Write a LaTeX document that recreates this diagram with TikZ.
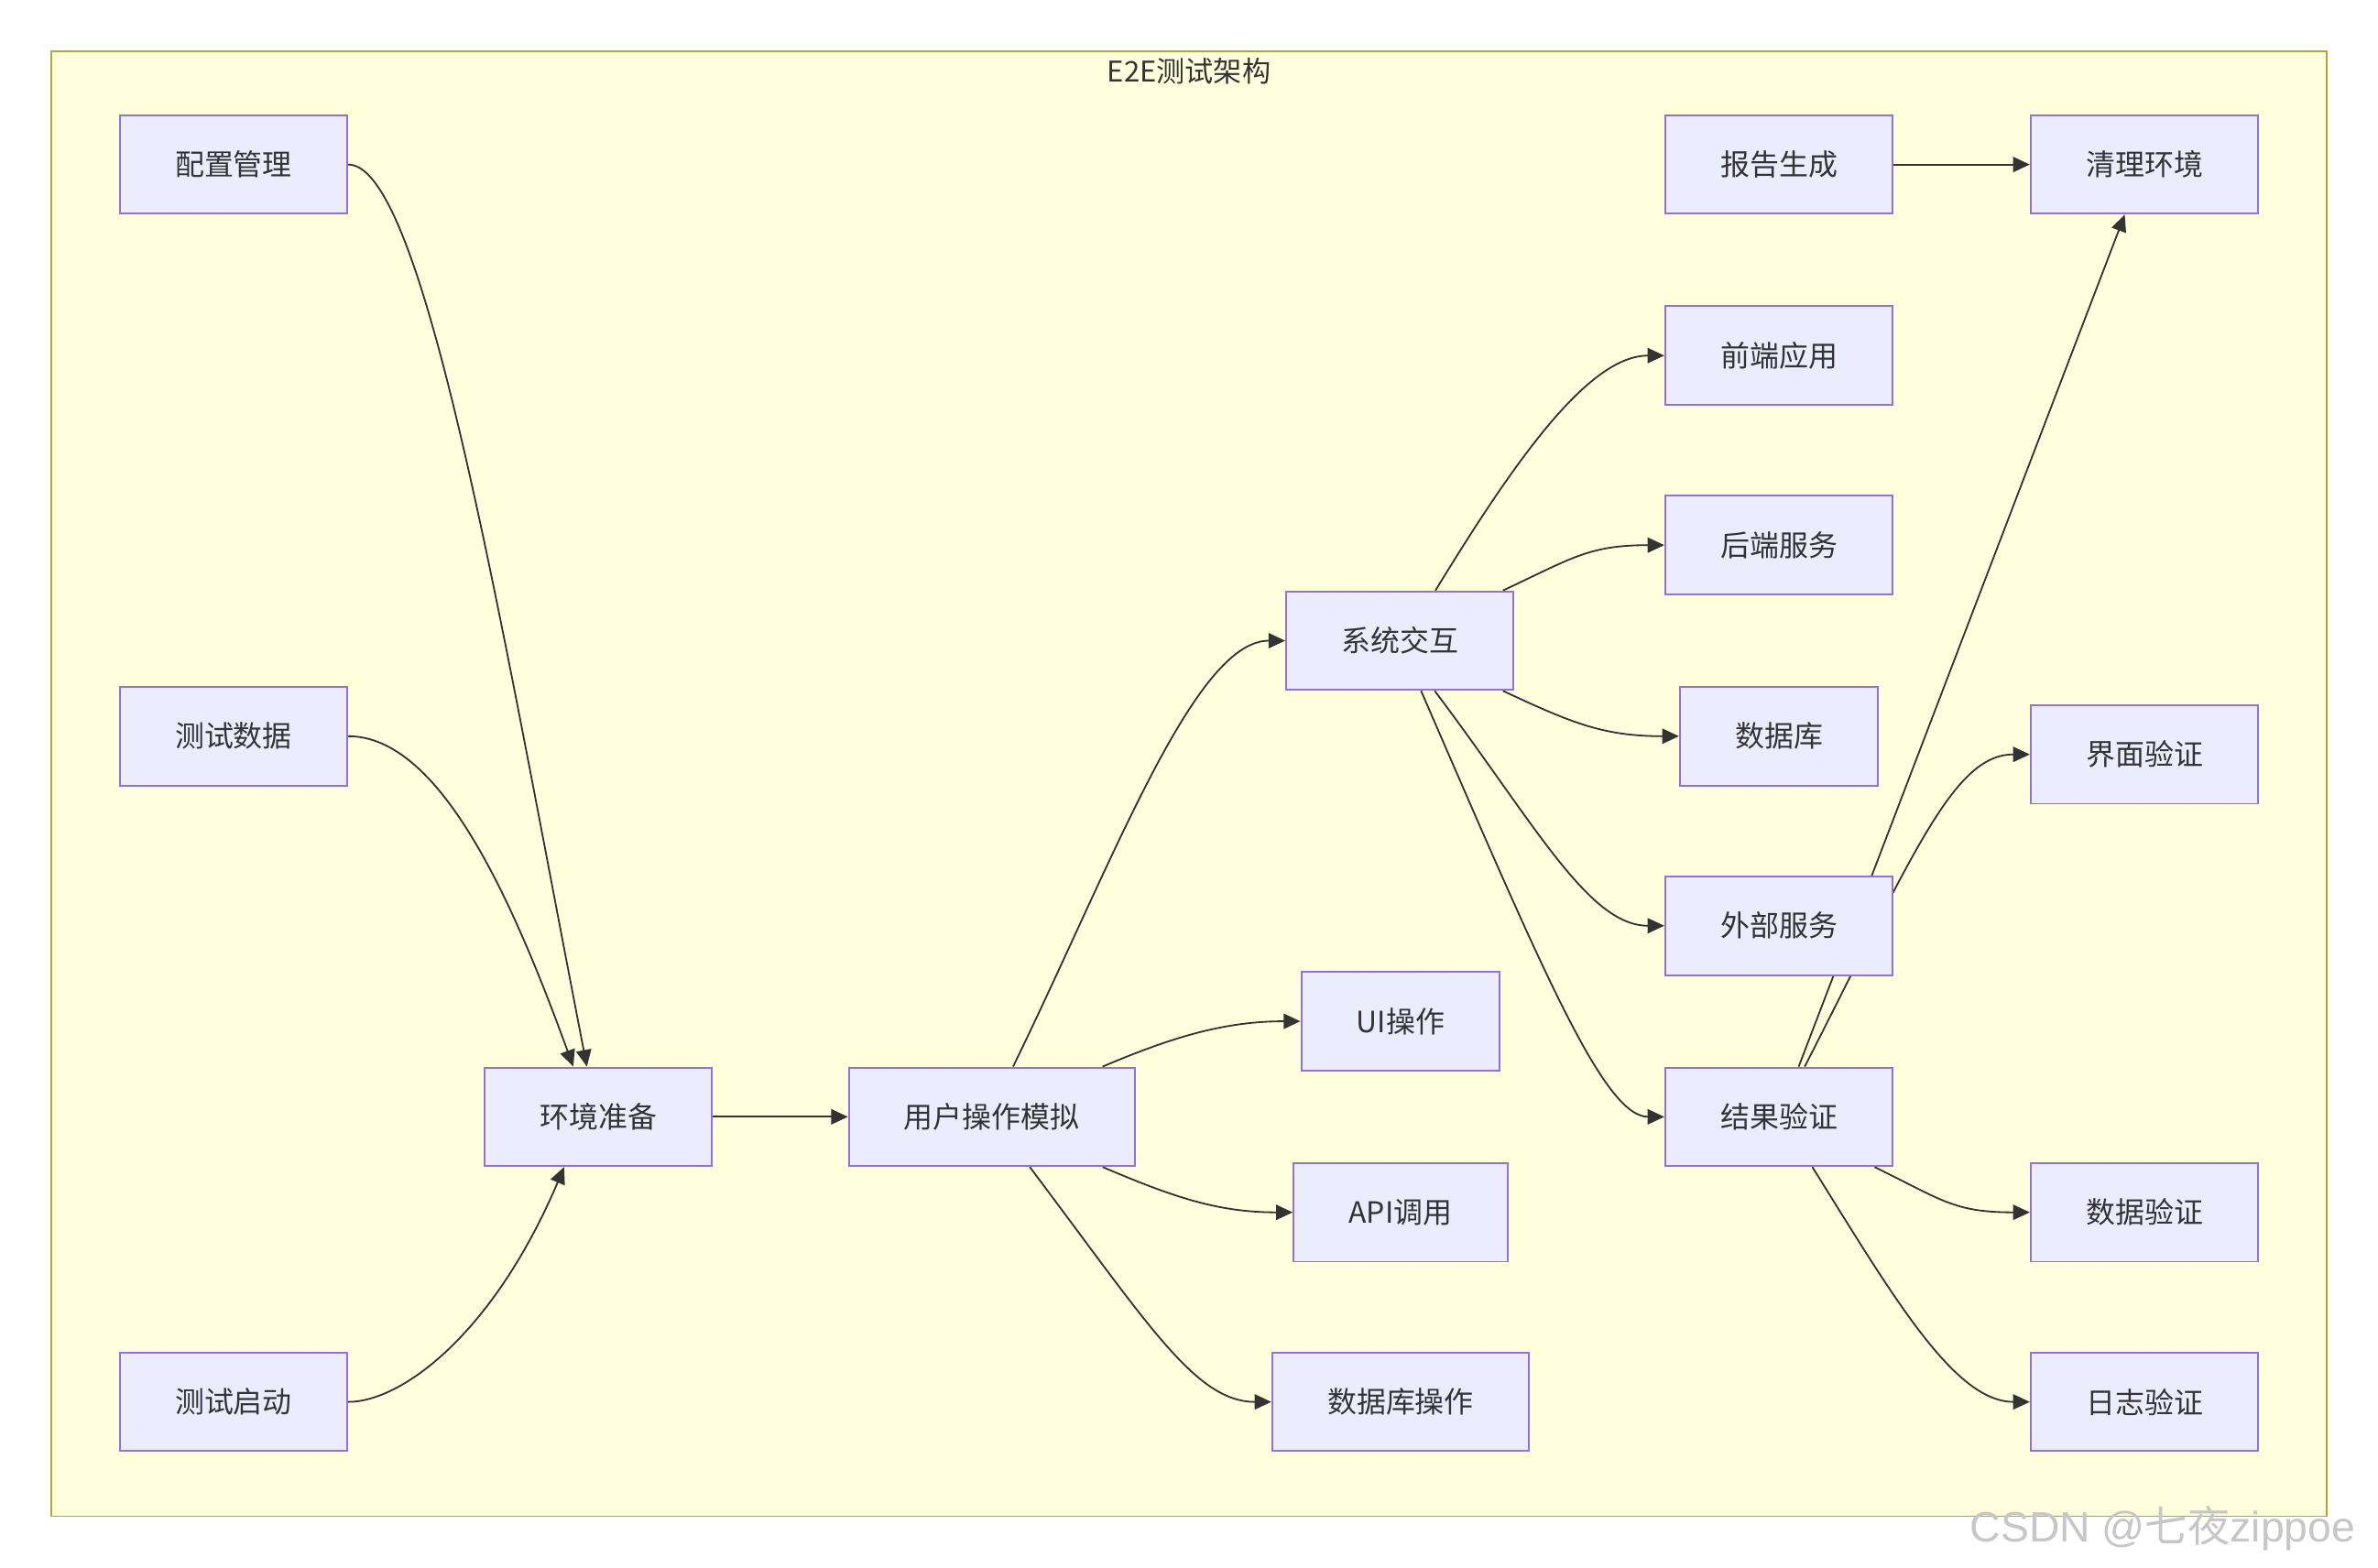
\documentclass[tikz,border=0pt]{standalone}
\usepackage{fontspec}
\newfontfamily\cjk{Noto Sans CJK SC}
\newfontfamily\wmfont{Liberation Sans}
\usetikzlibrary{calc}
\usetikzlibrary{arrows.meta}
\usetikzlibrary{backgrounds}
\definecolor{boxfill}{HTML}{ECECFF}
\definecolor{boxline}{HTML}{9370DB}
\definecolor{groupfill}{HTML}{FFFFDE}
\definecolor{groupline}{HTML}{AAAA33}
\definecolor{ink}{HTML}{333333}
\tikzset{
  box/.style={draw=boxline, fill=boxfill, line width=0.6pt, text=ink,
    font=\cjk\fontsize{9.65}{11}\selectfont,
    minimum height=32.5pt, inner xsep=18.2pt, inner ysep=0pt},
  flow/.style={draw=ink, line width=0.55pt, -{Triangle[length=5.5pt,width=5pt]}},
  group/.style={draw=groupline, fill=groupfill, line width=0.5pt},
  grouptitle/.style={text=ink, font=\cjk\fontsize{9.4}{11}\selectfont, inner sep=0pt},
  watermark/.style={text=black!22, font=\fontsize{14}{16}\selectfont, inner sep=0pt}
}

\begin{document}
\begin{tikzpicture}[x=0.5pt,y=0.5pt]
\useasboundingbox (0,0) rectangle (1568,-1034);

% title of the group
\node[grouptitle] (ttl) at (784,-47) {E2E测试架构};

% left column
\node[box] (cfg) at (154,-108.5) {配置管理};
\node[box] (data) at (154,-485.5) {测试数据};
\node[box] (start) at (154,-924.5) {测试启动};
\node[box] (env) at (394.5,-736.5) {环境准备};
\node[box] (user) at (654,-736.5) {用户操作模拟};

% user actions
\node[box] (ui) at (923.5,-673.5) {UI操作};
\node[box] (api) at (923.5,-799.5) {API调用};
\node[box] (dbop) at (923.5,-924.5) {数据库操作};
\node[box] (sys) at (923,-422.5) {系统交互};

% systems
\node[box] (report) at (1173,-108.5) {报告生成};
\node[box] (front) at (1173,-234.5) {前端应用};
\node[box] (back) at (1173,-359.5) {后端服务};
\node[box] (db) at (1173,-485.5) {数据库};
\node[box] (ext) at (1173,-610.5) {外部服务};
\node[box] (result) at (1173,-736.5) {结果验证};

% checks
\node[box] (clean) at (1414,-108.5) {清理环境};
\node[box] (uicheck) at (1414,-497.5) {界面验证};
\node[box] (datacheck) at (1414,-799.5) {数据验证};
\node[box] (logcheck) at (1414,-924.5) {日志验证};

\begin{scope}[on background layer]
\draw[group] (34,-34) rectangle (1534,-1000);

\draw[flow] (cfg.east) .. controls +(50,0) and +(101:300) .. ($(env.north)+(-7.5,0)$);
\draw[flow] (data.east) .. controls +(60,0) and +(110:120) .. ($(env.north)+(-16.5,0)$);
\draw[flow] (start.east) .. controls +(35,0) and +(247:120) .. ($(env.south)+(-22.5,0)$);
\draw[flow] (env) -- (user);

\draw[flow] ($(user.north)+(14,0)$) .. controls +(64:150) and +(-60,0) .. (sys.west);
\draw[flow] ($(user.north)+(73,0)$) .. controls +(23:50) and +(-50,0) .. (ui.west);
\draw[flow] ($(user.south)+(73,0)$) .. controls +(-23:50) and +(-50,0) .. (api.west);
\draw[flow] ($(user.south)+(25,0)$) .. controls +(-53:130) and +(-50,0) .. (dbop.west);

\draw[flow] ($(sys.north)+(23.5,0)$) .. controls +(58.6:100) and +(-50,0) .. (front.west);
\draw[flow] ($(sys.north)+(68,0)$) .. controls +(25:50) and +(-50,0) .. (back.west);
\draw[flow] ($(sys.south)+(68,0)$) .. controls +(-25:50) and +(-50,0) .. (db.west);
\draw[flow] ($(sys.south)+(23,0)$) .. controls +(-53:110) and +(-50,0) .. (ext.west);
\draw[flow] ($(sys.south)+(14,0)$) .. controls +(-66.5:200) and +(-40,0) .. (result.west);

\draw[flow] ($(result.north)+(17,0)$) .. controls +(63:160) and +(-50,0) .. (uicheck.west);
\draw[flow] ($(result.north)+(13,0)$) -- ($(clean.south)+(-13,0)$);
\draw[flow] ($(result.south)+(63,0)$) .. controls +(-26:50) and +(-50,0) .. (datacheck.west);
\draw[flow] ($(result.south)+(22,0)$) .. controls +(-58:100) and +(-50,0) .. (logcheck.west);
\draw[flow] (report) -- (clean);
\end{scope}

% watermark
\node[watermark] (mark) at (1426,-1008) {\wmfont CSDN @{\cjk 七夜}zippoe};
\end{tikzpicture}
\end{document}
